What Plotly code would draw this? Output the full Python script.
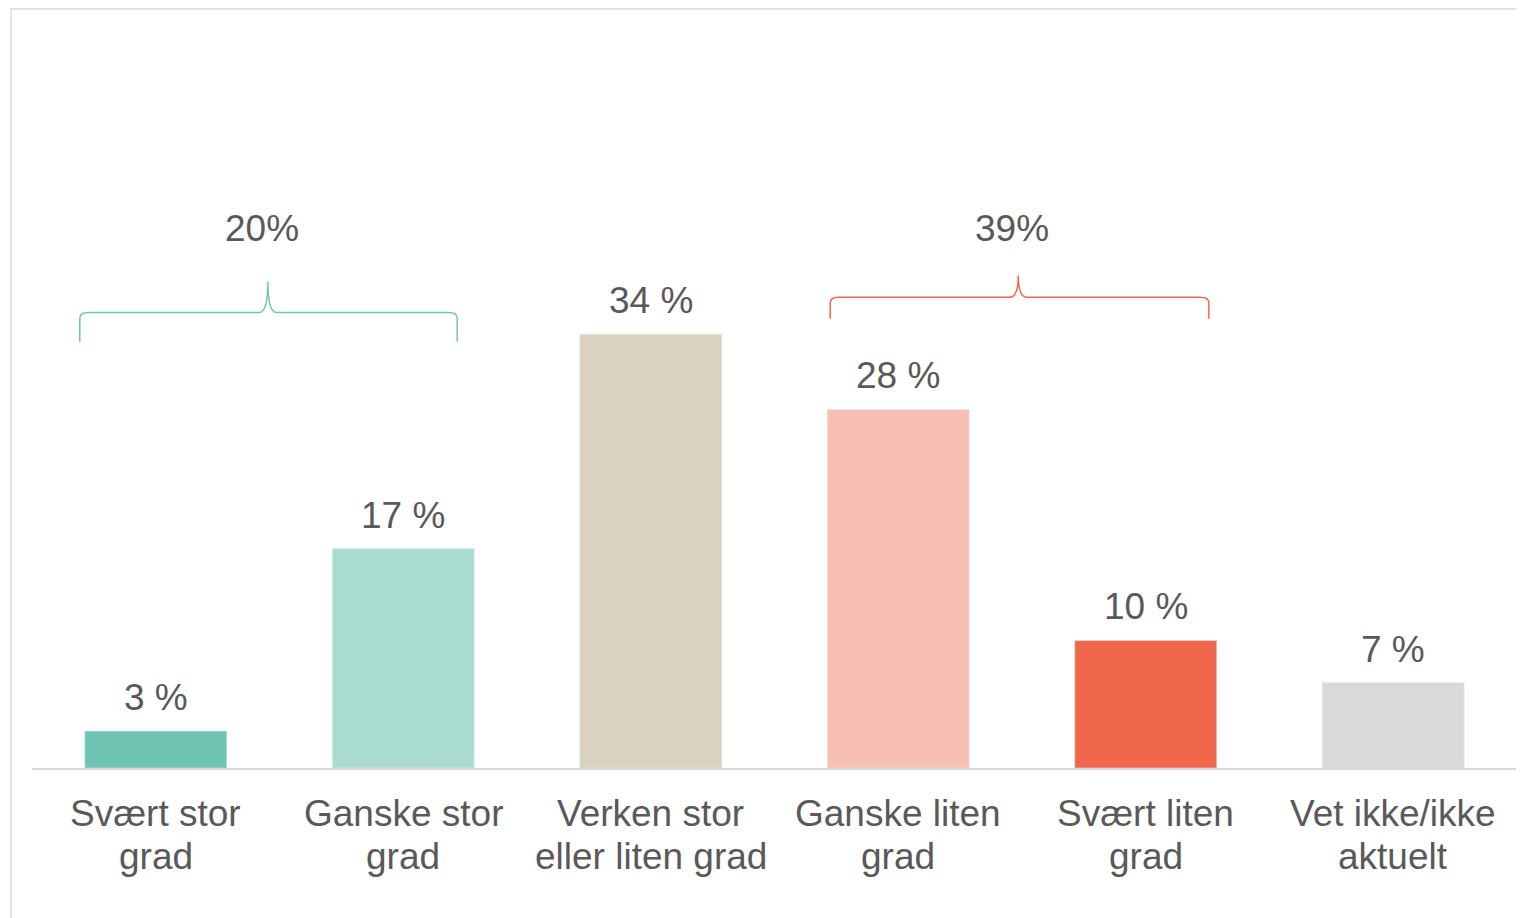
import plotly.graph_objects as go

categories = ["Svært stor<br>grad", "Ganske stor<br>grad", "Verken stor<br>eller liten grad",
              "Ganske liten<br>grad", "Svært liten<br>grad", "Vet ikke/ikke<br>aktuelt"]
values = [2.9, 17.2, 34.0, 28.1, 10.0, 6.7]
bar_colors = ["#70c4b4", "#a9dbd0", "#d9d2c0", "#f8c0b5", "#f0674b", "#d9d9d9"]

# grouped totals shown above the braces
groups = [
    dict(label="20%", first=0, last=1, color="#70c4b4"),
    dict(label="39%", first=3, last=4, color="#f0674b"),
]

FONT = "Liberation Sans, Arial, sans-serif"
TXT = "#595959"
xs = list(range(len(categories)))

fig = go.Figure(go.Bar(x=xs, y=values, marker_color=bar_colors, width=0.574,
                       hoverinfo="skip"))

# value labels (rounded, as in the source)
for x, v in zip(xs, values):
    fig.add_annotation(x=x, y=v, text=f"{round(v)} %", showarrow=False, yanchor="bottom",
                       yshift=11, font=dict(size=37, color=TXT, family=FONT))

# category labels, one annotation per line to get the tighter line spacing
for x, cat in zip(xs, categories):
    for i, line in enumerate(cat.split("<br>")):
        fig.add_annotation(x=x, y=0, text=line, showarrow=False, yanchor="middle",
                           yshift=-45 - 43 * i,
                           font=dict(size=37, color=TXT, family=FONT))


def brace_path(x0, x1, xt, yb, yh, yt, rx=0.035, ry=0.45):
    return (f"M {x0},{yb} L {x0},{yh - ry} Q {x0},{yh} {x0 + rx},{yh} "
            f"L {xt - rx},{yh} Q {xt},{yh} {xt},{yt} Q {xt},{yh} {xt + rx},{yh} "
            f"L {x1 - rx},{yh} Q {x1},{yh} {x1},{yh - ry} L {x1},{yb}")


brace_geo = [
    dict(left=-0.307, right=0.218, tip=0.453, yb=33.4, yh=35.7, yt=38.1),
    dict(left=-0.275, right=0.255, tip=0.485, yb=35.2, yh=36.9, yt=38.6),
]
for g, b in zip(groups, brace_geo):
    x0 = g["first"] + b["left"]
    x1 = g["last"] + b["right"]
    xt = g["first"] + b["tip"]
    fig.add_shape(type="path", xref="x", yref="y",
                  path=brace_path(x0, x1, xt, b["yb"], b["yh"], b["yt"]),
                  line=dict(color=g["color"], width=1.5))
    fig.add_annotation(x=xt - 0.025, y=42.3, text=g["label"], showarrow=False,
                       font=dict(size=37, color=TXT, family=FONT))

# outer frame (right and bottom edges fall outside the picture)
fig.add_shape(type="rect", xref="paper", yref="paper",
              x0=-0.0141, x1=1.2, y0=-0.5, y1=1.1897,
              line=dict(color="#e2e2e2", width=2), fillcolor="rgba(0,0,0,0)")

fig.update_layout(
    width=1524, height=918,
    margin=dict(l=24, r=15, t=122, b=158),
    plot_bgcolor="white", paper_bgcolor="white",
    showlegend=False,
    font=dict(family=FONT, color=TXT),
    xaxis=dict(range=[-0.5, 5.5], tickvals=xs, showticklabels=False,
               showgrid=False, zeroline=False, showline=True,
               linecolor="#d9d9d9", linewidth=2, ticks=""),
    yaxis=dict(range=[0, 50], visible=False, showgrid=False, zeroline=False),
)

fig.write_html("out.html")
